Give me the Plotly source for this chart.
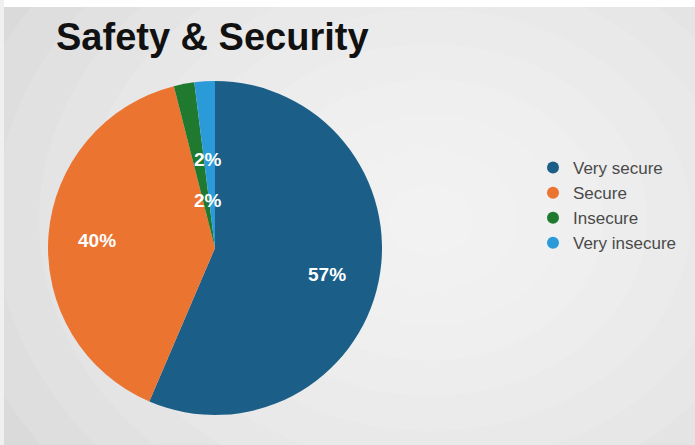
import math
import plotly.graph_objects as go

labels = ["Very secure", "Secure", "Insecure", "Very insecure"]
values = [57, 40, 2, 2]
colors = ["#1b5f88", "#ec7431", "#1f7a30", "#2a9bd8"]
# label placement: (angle in degrees clockwise from 12 o'clock, fraction of radius)
label_pos = [(103.5, 0.69), (273.4, 0.71), (351.7, 0.29), (355.5, 0.53)]

W, H = 695, 445
dom_x = [48 / W, 382 / W]
dom_y = [(197 - 167) / H, (197 + 167) / H]

fig = go.Figure()
fig.add_trace(go.Pie(
    labels=labels, values=values, sort=False, direction="clockwise", rotation=0,
    marker=dict(colors=colors, line=dict(width=0)),
    textinfo="none", hoverinfo="label+value", showlegend=False,
    domain=dict(x=dom_x, y=dom_y),
))

# legend with circular markers
for lab, col in zip(labels, colors):
    fig.add_trace(go.Scatter(x=[None], y=[None], mode="markers", name=lab,
                             marker=dict(symbol="circle", size=12, color=col)))

cx = (dom_x[0] + dom_x[1]) / 2
cy = (dom_y[0] + dom_y[1]) / 2
rx = 167 / W
ry = 167 / H
annotations = []
for v, (ang, fr) in zip(values, label_pos):
    a = math.radians(ang)
    annotations.append(dict(
        x=cx + fr * rx * math.sin(a), y=cy + fr * ry * math.cos(a),
        xref="paper", yref="paper", xanchor="center", yanchor="middle",
        text=f"<b>{v}%</b>", showarrow=False,
        font=dict(family="Liberation Sans, Arial, sans-serif", size=19, color="white"),
    ))
# title
annotations.append(dict(
    x=54 / W, y=1 - 37 / H, xref="paper", yref="paper", xanchor="left", yanchor="middle",
    text="<b>Safety & Security</b>", showarrow=False,
    font=dict(family="Liberation Sans, Arial, sans-serif", size=38, color="#111111"),
))

# faux radial gradient background
shapes = []
gx, gy = 430 / W, 1 - 220 / H
n = 12
for i in range(n):
    s = 1 - i / n
    shapes.append(dict(type="circle", xref="paper", yref="paper", layer="below",
                       x0=gx - 0.75 * s, x1=gx + 0.75 * s,
                       y0=gy - 0.95 * s, y1=gy + 0.95 * s,
                       fillcolor="white", opacity=0.11, line=dict(width=0)))
shapes.append(dict(type="rect", xref="paper", yref="paper", layer="below",
                   x0=0, x1=1, y0=1 - 7 / H, y1=1, fillcolor="white", line=dict(width=0)))
shapes.append(dict(type="rect", xref="paper", yref="paper", layer="below",
                   x0=0, x1=4 / W, y0=0, y1=1, fillcolor="#f0f0f0", line=dict(width=0)))

fig.update_layout(
    width=W, height=H, margin=dict(l=0, r=0, t=0, b=0),
    paper_bgcolor="#d6d6d6", plot_bgcolor="rgba(0,0,0,0)",
    xaxis=dict(visible=False), yaxis=dict(visible=False),
    annotations=annotations, shapes=shapes,
    legend=dict(x=533 / W, y=1 - 150 / H, xanchor="left", yanchor="top",
                bgcolor="rgba(0,0,0,0)", itemsizing="constant", tracegroupgap=0,
                font=dict(family="Liberation Sans, Arial, sans-serif", size=17, color="#4a4a4a")),
    showlegend=True,
)

fig.write_html("out.html")
